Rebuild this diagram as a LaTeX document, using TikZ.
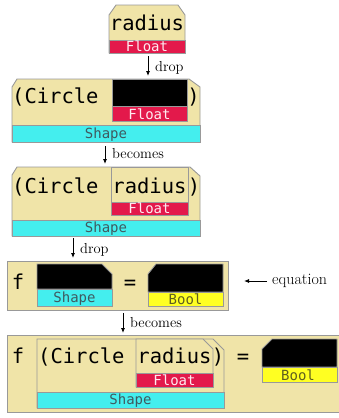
\documentclass[tikz,border=0pt]{standalone}
\usepackage{fontspec}
\newfontfamily\codefont{DejaVu Sans Mono}
\usetikzlibrary{arrows.meta}
\definecolor{tanbg}{HTML}{F0E4A8}
\definecolor{crimbar}{HTML}{E3194B}
\definecolor{cyanbar}{HTML}{44EEEE}
\definecolor{yelbar}{HTML}{FFFF22}
\definecolor{edgegrey}{HTML}{999999}
\definecolor{shapetxt}{HTML}{3F5A60}
\definecolor{booltxt}{HTML}{5E5E1E}
\definecolor{floattxt}{HTML}{FFEAF0}
\tikzset{
  outer/.style={fill=tanbg, draw=edgegrey, line width=0.9pt, line join=miter},
  floatbar/.style={fill=crimbar, draw=edgegrey, line width=0.9pt},
  shapebar/.style={fill=cyanbar, draw=edgegrey, line width=0.9pt},
  boolbar/.style={fill=yelbar, draw=edgegrey, line width=0.9pt},
  hole/.style={fill=black, draw=edgegrey, line width=0.9pt},
  innerbox/.style={fill=tanbg, draw=edgegrey, line width=0.9pt},
  code/.style={font=\codefont\fontsize{20.5}{24}\selectfont, inner sep=0pt, anchor=base},
  codew/.style={font=\codefont\fontsize{20.5}{24}\selectfont, inner sep=0pt, anchor=base west},
  lab/.style={font=\codefont\fontsize{14}{16}\selectfont, inner sep=0pt, anchor=base},
  note/.style={font=\fontsize{14.5}{16}\selectfont, inner sep=0pt, anchor=base west},
  arr/.style={-{Latex[length=5pt,width=4pt]}, line width=0.8pt},
}
\begin{document}
\begin{tikzpicture}[x=1pt,y=-1pt]
\useasboundingbox (0,0) rectangle (338,418);

% ---------- block 1: radius : Float
\draw[outer] (109,15) -- (116,5) -- (178,5) -- (185,15) -- (185,53) -- (109,53) -- cycle;
\draw[floatbar] (109,40) rectangle (185,53);
\node[code] (b1txt) at (147,30) {radius};
\node[lab, text=floattxt] (b1lab) at (147,51.5) {Float};

\coordinate (a1s) at (148,56);
\coordinate (a1e) at (148,76);
\draw[arr] (a1s) -- (a1e);
\node[note] (a1lab) at (155,71.5) {drop};

% ---------- block 2: (Circle [hole : Float]) : Shape
\draw[outer] (12,87) -- (17,79) -- (189,79) -- (200,87) -- (200,142) -- (12,142) -- cycle;
\draw[hole] (112,79) rectangle (187,106);
\draw[floatbar] (112,106) rectangle (187,121);
\draw[shapebar] (12,125) rectangle (200,142);
\node[codew] (b2c) at (12,103) {(Circle};
\node[code] (b2p) at (193.5,103) {)};
\node[lab, text=floattxt] (b2f) at (149.5,119.5) {Float};
\node[lab, text=shapetxt] (b2s) at (106,138.5) {Shape};

\coordinate (a2s) at (105,146);
\coordinate (a2e) at (105,164);
\draw[arr] (a2s) -- (a2e);
\node[note] (a2lab) at (112,158.3) {becomes};

% ---------- block 3: (Circle radius) : Shape
\draw[outer] (12,175) -- (17,167) -- (190,167) -- (200,176) -- (200,236) -- (12,236) -- cycle;
\draw[innerbox] (111,167) rectangle (188,202);
\draw[floatbar] (111,202) rectangle (188,215);
\draw[shapebar] (12,220) rectangle (200,236);
\node[codew] (b3c) at (12,193) {(Circle};
\node[code] (b3r) at (149.5,193) {radius};
\node[code] (b3p) at (194,193) {)};
\node[lab, text=floattxt] (b3f) at (149.5,213.5) {Float};
\node[lab, text=shapetxt] (b3s) at (106,232.5) {Shape};

\coordinate (a3s) at (73,238);
\coordinate (a3e) at (73,258);
\draw[arr] (a3s) -- (a3e);
\node[note] (a3lab) at (80,253.5) {drop};

% ---------- block 4: f [hole:Shape] = [hole:Bool]
\draw[outer] (7,261) rectangle (228,310);
\draw[hole] (37,264) -- (102,264) -- (112,274) -- (112,289) -- (37,289) -- cycle;
\draw[shapebar] (37,289) rectangle (112,306);
\draw[hole] (148,274) -- (156,264) -- (223,264) -- (223,292) -- (148,292) -- cycle;
\draw[boolbar] (148,292) rectangle (223,306);
\node[code] (b4f) at (18,289) {f};
\node[code] (b4eq) at (130,289) {=};
\node[lab, text=shapetxt] (b4s) at (74.5,302.5) {Shape};
\node[lab, text=booltxt] (b4b) at (185.5,304.5) {Bool};

\coordinate (eqs) at (267,281);
\coordinate (eqe) at (244,281);
\draw[arr] (eqs) -- (eqe);
\node[note, font=\fontsize{16}{18}\selectfont] (eqlab) at (272,284.5) {equation};

\coordinate (a4s) at (123,313);
\coordinate (a4e) at (123,333);
\draw[arr] (a4s) -- (a4e);
\node[note] (a4lab) at (130,327) {becomes};

% ---------- block 5: f (Circle radius) = [hole:Bool]
\draw[outer] (7,335) rectangle (345,412);
\draw[innerbox] (37,339) -- (213,339) -- (224,350) -- (224,408) -- (37,408) -- cycle;
\draw[shapebar] (37,392) rectangle (224,408);
\draw[innerbox] (136,339) -- (203,339) -- (213,349) -- (213,387) -- (136,387) -- cycle;
\draw[floatbar] (136,373) rectangle (213,387);
\draw[hole] (262,349) -- (272,339) -- (337,339) -- (337,367) -- (262,367) -- cycle;
\draw[boolbar] (262,367) rectangle (337,382);
\node[code] (b5f) at (18,363) {f};
\node[codew] (b5c) at (38,363) {(Circle};
\node[code] (b5r) at (174.5,363) {radius};
\node[code] (b5p) at (218,363) {)};
\node[code] (b5eq) at (243,363) {=};
\node[lab, text=floattxt] (b5fl) at (174.5,385.5) {Float};
\node[lab, text=shapetxt] (b5s) at (130.5,404.5) {Shape};
\node[lab, text=booltxt] (b5b) at (298,380.5) {Bool};
\end{tikzpicture}
\end{document}
